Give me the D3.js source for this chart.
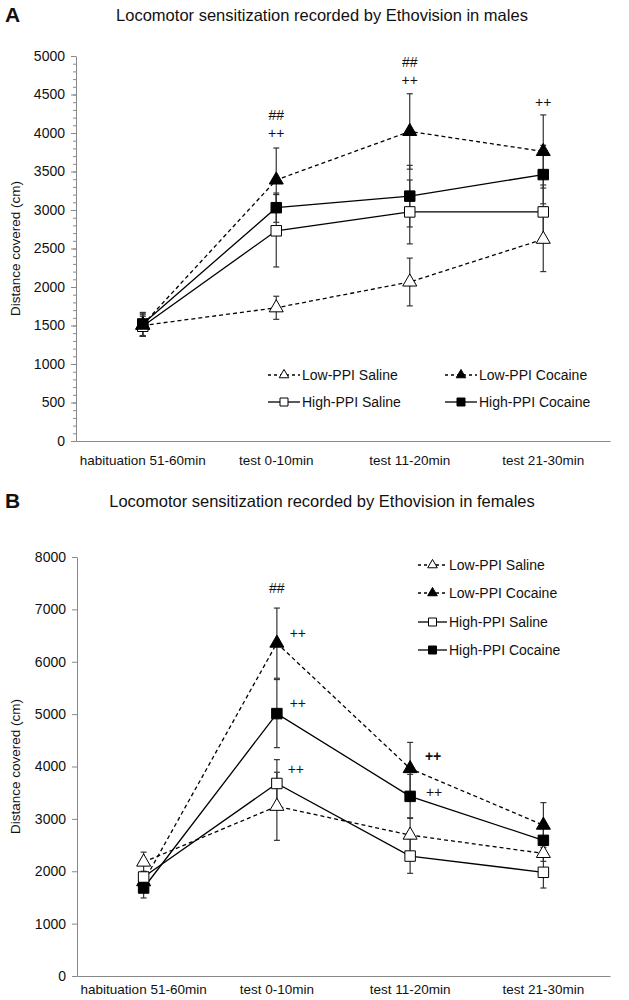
<!DOCTYPE html>
<html>
<head>
<meta charset="utf-8">
<script src="https://cdn.jsdelivr.net/npm/d3@7"></script>
<style>
  body { margin: 0; background: #fff; }
  text { font-family: "Liberation Sans", Arial, sans-serif; fill: #111; }
</style>
</head>
<body>
<svg width="629" height="1000"></svg>
<script>
// categories and series
const categories = ["habituation 51-60min", "test 0-10min", "test 11-20min", "test 21-30min"];
const seriesNames = ["Low-PPI Saline", "Low-PPI Cocaine", "High-PPI Saline", "High-PPI Cocaine"];

// males (panel A): means and error
const maleLowSaline = [1500, 1730, 2065, 2620];
const maleLowSalineErr = [140, 150, 310, 420];
const maleLowCocaine = [1510, 3390, 4020, 3760];
const maleLowCocaineErr = [150, 415, 490, 475];
const maleHighSaline = [1490, 2730, 2975, 2975];
const maleHighSalineErr = [130, 470, 415, 350];
const maleHighCocaine = [1520, 3030, 3180, 3460];
const maleHighCocaineErr = [150, 190, 400, 380];

// females (panel B)
const femLowSaline = [2175, 3240, 2690, 2340];
const femLowSalineErr = [190, 650, 330, 150];
const femLowCocaine = [1800, 6355, 3960, 2880];
const femLowCocaineErr = [150, 670, 500, 430];
const femHighSaline = [1890, 3676, 2290, 1980];
const femHighSalineErr = [110, 455, 330, 300];
const femHighCocaine = [1680, 5010, 3430, 2590];
const femHighCocaineErr = [190, 650, 420, 300];

// significance marks: category, value where the text sits, text
const maleMarks = [
  { cat: "test 0-10min", v: 4234, t: "##" },
  { cat: "test 0-10min", v: 4000, t: "++" },
  { cat: "test 11-20min", v: 4922, t: "##" },
  { cat: "test 11-20min", v: 4688, t: "++" },
  { cat: "test 21-30min", v: 4400, t: "++" }
];
const femMarks = [
  { cat: "test 0-10min", v: 7410, t: "##", dx: 0 },
  { cat: "test 0-10min", v: 6550, t: "++", dx: 21 },
  { cat: "test 0-10min", v: 5220, t: "++", dx: 21 },
  { cat: "test 0-10min", v: 3960, t: "++", dx: 19 },
  { cat: "test 11-20min", v: 4210, t: "++", dx: 23, bold: true },
  { cat: "test 11-20min", v: 3520, t: "++", dx: 24 }
];

const styles = [
  { dash: "4,3", marker: "triangle", fill: "#fff" },
  { dash: "4,3", marker: "triangle", fill: "#000" },
  { dash: null, marker: "square", fill: "#fff" },
  { dash: null, marker: "square", fill: "#000" }
];

var svg = d3.select("svg");

function drawPanel(cfg) {
  const x = d3.scaleBand().domain(categories).range([cfg.left, cfg.right]);
  const cx = c => x(c) + x.bandwidth() / 2;
  const y = d3.scaleLinear().domain([0, cfg.max]).range([cfg.bottom, cfg.top]);
  const g = svg.append("g");

  // panel letter + title
  g.append("text").attr("x", 5).attr("y", cfg.letterY)
    .style("font-size", "21px").style("font-weight", "bold").text(cfg.letter);
  g.append("text").attr("x", cfg.titleX).attr("y", cfg.letterY - 1)
    .attr("text-anchor", "middle").style("font-size", "16.5px").text(cfg.title);

  // minor ticks (males only)
  if (cfg.minor) {
    g.append("g").attr("transform", "translate(" + cfg.left + ",0)")
      .call(d3.axisLeft(y).ticks(cfg.max / cfg.minor).tickSize(3).tickFormat(""))
      .call(a => a.select(".domain").remove())
      .selectAll("line").attr("stroke", "#888");
  }
  // y axis
  const ya = g.append("g").attr("transform", "translate(" + cfg.left + ",0)")
    .call(d3.axisLeft(y).tickValues(d3.range(0, cfg.max + 1, cfg.step)).tickFormat(d3.format("d"))
      .tickSize(5).tickPadding(6).tickSizeOuter(0));
  ya.select(".domain").attr("stroke", "#888");
  ya.selectAll("line").attr("stroke", "#888");
  ya.selectAll("text").style("font-size", "14px").style("font-family", "Liberation Sans, Arial, sans-serif").attr("fill", "#111");

  // x axis
  const xa = g.append("g").attr("transform", "translate(0," + cfg.bottom + ")")
    .call(d3.axisBottom(x).tickSize(0).tickPadding(cfg.xPad));
  xa.select(".domain").attr("stroke", "#888");
  xa.selectAll("text").style("font-size", "13.5px").style("font-family", "Liberation Sans, Arial, sans-serif").attr("fill", "#111");

  // y label
  g.append("text").attr("transform", "translate(20," + ((cfg.top + cfg.bottom) / 2) + ") rotate(-90)")
    .attr("text-anchor", "middle").style("font-size", "13.5px").text("Distance covered (cm)");

  const line = d3.line().x((d, i) => cx(categories[i])).y(d => y(d));

  // lines
  cfg.series.forEach((s, k) => {
    g.append("path").datum(s.values).attr("d", line)
      .attr("fill", "none").attr("stroke", "#000").attr("stroke-width", 1.3)
      .attr("stroke-dasharray", styles[k].dash);
  });

  // error bars
  cfg.series.forEach(s => {
    const eb = g.append("g").attr("stroke", "#333").attr("stroke-width", 1.2);
    s.values.forEach((v, i) => {
      const px = cx(categories[i]);
      eb.append("line").attr("x1", px).attr("x2", px).attr("y1", y(v - s.err[i])).attr("y2", y(v + s.err[i]));
      [v - s.err[i], v + s.err[i]].forEach(e => {
        eb.append("line").attr("x1", px - 3).attr("x2", px + 3).attr("y1", y(e)).attr("y2", y(e));
      });
    });
  });

  // markers
  cfg.series.forEach((s, k) => {
    const st = styles[k];
    const sym = d3.symbol().type(st.marker === "square" ? d3.symbolSquare : d3.symbolTriangle)
      .size(st.marker === "square" ? 110 : 85);
    g.append("g").selectAll("path").data(s.values).join("path")
      .attr("d", sym)
      .attr("transform", (d, i) => "translate(" + cx(categories[i]) + "," + y(d) + ")")
      .attr("fill", st.fill).attr("stroke", "#000").attr("stroke-width", 1);
  });

  // significance marks
  g.append("g").selectAll("text").data(cfg.marks).join("text")
    .attr("x", d => cx(d.cat) + (d.dx || 0)).attr("y", d => y(d.v) + 5)
    .attr("text-anchor", "middle").style("font-size", "14px")
    .style("font-weight", d => d.bold ? "bold" : "normal")
    .text(d => d.t);

  // legend
  cfg.legend.forEach((p, k) => {
    const st = styles[k];
    const lg = g.append("g").attr("transform", "translate(" + p[0] + "," + p[1] + ")");
    lg.append("line").attr("x1", 0).attr("x2", cfg.legW).attr("y1", 0).attr("y2", 0)
      .attr("stroke", "#000").attr("stroke-width", 1.3).attr("stroke-dasharray", st.dash ? "3,3" : null);
    const sym = d3.symbol().type(st.marker === "square" ? d3.symbolSquare : d3.symbolTriangle)
      .size(st.marker === "square" ? 64 : 40);
    lg.append("path").attr("d", sym).attr("transform", "translate(" + cfg.legW / 2 + ",0)")
      .attr("fill", st.fill).attr("stroke", "#000");
    lg.append("text").attr("x", cfg.legW + 2).attr("y", 5).style("font-size", "14px").text(seriesNames[k]);
  });
}

drawPanel({
  letter: "A", letterY: 22, titleX: 322,
  title: "Locomotor sensitization recorded by Ethovision in males",
  left: 76, right: 610, top: 56, bottom: 441, max: 5000, step: 500, minor: 100, xPad: 14,
  series: [
    { values: maleLowSaline, err: maleLowSalineErr },
    { values: maleLowCocaine, err: maleLowCocaineErr },
    { values: maleHighSaline, err: maleHighSalineErr },
    { values: maleHighCocaine, err: maleHighCocaineErr }
  ],
  marks: maleMarks,
  legW: 32,
  legend: [[268, 375], [445, 375], [268, 402], [445, 402]]
});

drawPanel({
  letter: "B", letterY: 508, titleX: 322,
  title: "Locomotor sensitization recorded by Ethovision in females",
  left: 77, right: 610, top: 557, bottom: 976, max: 8000, step: 1000, minor: null, xPad: 8,
  series: [
    { values: femLowSaline, err: femLowSalineErr },
    { values: femLowCocaine, err: femLowCocaineErr },
    { values: femHighSaline, err: femHighSalineErr },
    { values: femHighCocaine, err: femHighCocaineErr }
  ],
  marks: femMarks,
  legW: 29,
  legend: [[418, 565], [418, 593], [418, 622], [418, 650]]
});
</script>
</body>
</html>
